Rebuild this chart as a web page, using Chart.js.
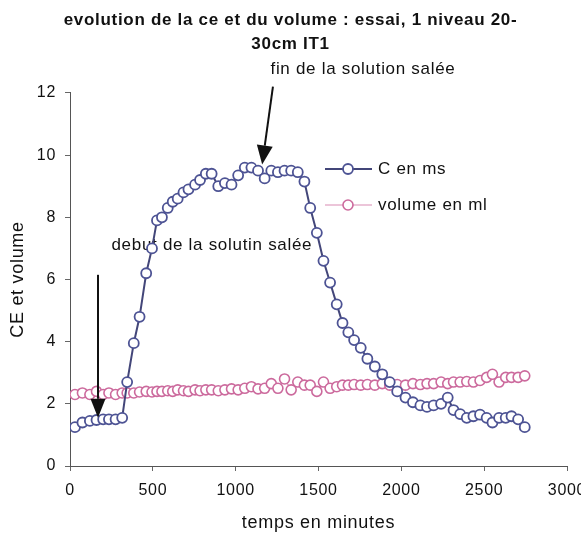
<!DOCTYPE html>
<html>
<head>
<meta charset="utf-8">
<title>evolution de la ce et du volume</title>
<script src="https://cdn.jsdelivr.net/npm/chart.js@4.4.1/dist/chart.umd.min.js"></script>
<style>
  body { margin: 0; background: #fff; }
  #wrap { width: 581px; height: 538px; }
</style>
</head>
<body>
<div id="wrap"><canvas id="chart" width="581" height="538"></canvas></div>
<script>
// temps en minutes (same sampling for both series)
const times = [30, 75, 120, 160, 200, 235, 275, 315, 345, 385,
  420, 460, 495, 525, 555, 590, 620, 650, 685, 715,
  755, 785, 820, 855, 895, 935, 975, 1015, 1055, 1095,
  1135, 1175, 1215, 1255, 1295, 1335, 1375, 1415, 1450, 1490,
  1530, 1570, 1610, 1645, 1680, 1715, 1755, 1795, 1840, 1885,
  1930, 1975, 2025, 2070, 2115, 2155, 2195, 2240, 2280, 2315,
  2355, 2395, 2435, 2475, 2515, 2550, 2590, 2630, 2665, 2705,
  2745];

// C en ms
const ceValues = [1.25, 1.4, 1.45, 1.48, 1.5, 1.5, 1.5, 1.55,
  2.7, 3.95, 4.8, 6.2, 7.0, 7.9, 8.0, 8.3, 8.5, 8.6, 8.8, 8.9, 9.05, 9.2, 9.4,
  9.4, 9.0, 9.1, 9.05, 9.35, 9.6, 9.6, 9.5, 9.25, 9.5, 9.45, 9.5, 9.5, 9.45, 9.15,
  8.3, 7.5, 6.6, 5.9, 5.2, 4.6, 4.3, 4.05, 3.8, 3.45, 3.2, 2.95, 2.7, 2.4, 2.2,
  2.05, 1.95, 1.9, 1.95, 2.0, 2.2, 1.8, 1.67, 1.55, 1.6, 1.65, 1.55, 1.4, 1.55,
  1.55, 1.6, 1.5, 1.25];

// volume en ml
const volumeValues = [2.3, 2.35, 2.3, 2.4, 2.3, 2.35, 2.3, 2.35,
  2.35, 2.35, 2.38, 2.4, 2.38, 2.4, 2.4, 2.42, 2.4, 2.45, 2.42, 2.4, 2.45, 2.42, 2.45,
  2.45, 2.42, 2.45, 2.48, 2.45, 2.5, 2.55, 2.48, 2.5, 2.65, 2.5, 2.8, 2.45, 2.7, 2.6,
  2.6, 2.4, 2.7, 2.5, 2.55, 2.6, 2.6, 2.62, 2.6, 2.62, 2.6, 2.65, 2.6, 2.62, 2.6,
  2.65, 2.62, 2.65, 2.65, 2.7, 2.65, 2.7, 2.7, 2.72, 2.7, 2.75, 2.85, 2.95, 2.7,
  2.85, 2.85, 2.85, 2.9, 3.1];

const seriesLabels = ['C en ms', 'volume en ml'];
const titleLines = ['evolution de la ce et du volume : essai, 1 niveau 20-', '30cm IT1'];

const FONT = '"Liberation Sans", Arial, sans-serif';
const blue = '#434679', bluePoint = '#4d5394';
const pink = '#d98cb4', pinkPoint = '#cc6a9d';

function drawArrow(ctx, x1, y1, x2, y2, headLen, headW) {
  const a = Math.atan2(y2 - y1, x2 - x1);
  const bx = x2 - headLen * Math.cos(a), by = y2 - headLen * Math.sin(a);
  ctx.beginPath();
  ctx.moveTo(x1, y1);
  ctx.lineTo(bx, by);
  ctx.stroke();
  ctx.beginPath();
  ctx.moveTo(x2, y2);
  ctx.lineTo(bx + headW / 2 * Math.sin(a), by - headW / 2 * Math.cos(a));
  ctx.lineTo(bx - headW / 2 * Math.sin(a), by + headW / 2 * Math.cos(a));
  ctx.closePath();
  ctx.fill();
}

// the scanned original has wide lettering
const spacing = {
  id: 'spacing',
  beforeDraw(chart) { chart.ctx.letterSpacing = '0.7px'; }
};

// text notes and arrows, anchored in data units
const notes = {
  id: 'notes',
  beforeDatasetsDraw(chart) {
    const {ctx, scales: {x, y}} = chart;
    ctx.save();
    ctx.font = '17px ' + FONT;
    ctx.fillStyle = '#111';
    ctx.textBaseline = 'middle';
    ctx.fillText('fin de la solution salée', x.getPixelForValue(1210), y.getPixelForValue(12.75));
    ctx.fillText('debut de la solutin salée', x.getPixelForValue(250), y.getPixelForValue(7.1));
    ctx.restore();
  },
  afterDatasetsDraw(chart) {
    const {ctx, scales: {x, y}} = chart;
    ctx.save();
    ctx.strokeStyle = '#111';
    ctx.fillStyle = '#111';
    ctx.lineWidth = 2;
    drawArrow(ctx, x.getPixelForValue(1225), y.getPixelForValue(12.2),
      x.getPixelForValue(1160), y.getPixelForValue(9.7), 19, 16);
    drawArrow(ctx, x.getPixelForValue(169), y.getPixelForValue(6.15),
      x.getPixelForValue(169), y.getPixelForValue(1.55), 19, 15);
    ctx.restore();
  }
};

// legend drawn inside the plot like the original
const sideLegend = {
  id: 'sideLegend',
  afterDraw(chart) {
    const ctx = chart.ctx;
    ctx.save();
    ctx.font = '17px ' + FONT;
    ctx.textBaseline = 'middle';
    chart.data.datasets.forEach((ds, i) => {
      const yy = 169 + i * 36;
      ctx.strokeStyle = ds.borderColor;
      ctx.lineWidth = ds.borderWidth;
      ctx.beginPath();
      ctx.moveTo(325, yy);
      ctx.lineTo(372, yy);
      ctx.stroke();
      ctx.beginPath();
      ctx.arc(348, yy, ds.pointRadius, 0, Math.PI * 2);
      ctx.fillStyle = '#fff';
      ctx.fill();
      ctx.strokeStyle = ds.pointBorderColor;
      ctx.lineWidth = ds.pointBorderWidth;
      ctx.stroke();
      ctx.fillStyle = '#111';
      ctx.fillText(ds.label, 378, yy);
    });
    ctx.restore();
  }
};

new Chart(document.getElementById('chart'), {
  type: 'line',
  data: {
    datasets: [
      {
        label: seriesLabels[0],
        data: times.map((t, i) => ({x: t, y: ceValues[i]})),
        borderColor: blue,
        borderWidth: 2,
        pointRadius: 5,
        pointBorderWidth: 1.8,
        pointBorderColor: bluePoint,
        pointBackgroundColor: '#fff',
        tension: 0
      },
      {
        label: seriesLabels[1],
        data: times.map((t, i) => ({x: t, y: volumeValues[i]})),
        borderColor: pink,
        borderWidth: 1.2,
        pointRadius: 5,
        pointBorderWidth: 1.6,
        pointBorderColor: pinkPoint,
        pointBackgroundColor: '#fff',
        tension: 0
      }
    ]
  },
  options: {
    responsive: false,
    animation: false,
    devicePixelRatio: 1,
    layout: { padding: 0 },
    plugins: {
      legend: { display: false },
      tooltip: { enabled: false },
      title: {
        display: true,
        text: titleLines,
        color: '#111',
        font: { family: FONT, size: 17, weight: 'bold', lineHeight: 1.41 },
        padding: { top: 8, bottom: 37 }
      }
    },
    scales: {
      x: {
        type: 'linear',
        min: 0,
        max: 3000,
        ticks: {
          stepSize: 500, color: '#111', padding: 10, maxRotation: 0,
          font: { family: FONT, size: 16 },
          callback: (v) => String(v)
        },
        grid: { drawOnChartArea: false, drawTicks: true, tickLength: 5, color: '#666' },
        border: { color: '#555', width: 1 },
        title: { display: true, text: 'temps en minutes', color: '#111', font: { family: FONT, size: 18 }, padding: { top: 0, bottom: 4 } },
        afterFit(s) { s.height = 72; s.paddingRight = 14; }
      },
      y: {
        min: 0,
        max: 12,
        ticks: { stepSize: 2, color: '#111', padding: 9, font: { family: FONT, size: 16 } },
        grid: { drawOnChartArea: false, drawTicks: true, tickLength: 5, color: '#666' },
        border: { color: '#555', width: 1 },
        title: { display: true, text: 'CE et volume', color: '#111', font: { family: FONT, size: 18 }, padding: { top: 7, bottom: 0 } },
        afterFit(s) { s.width = 70; }
      }
    }
  },
  plugins: [spacing, notes, sideLegend]
});
</script>
</body>
</html>
